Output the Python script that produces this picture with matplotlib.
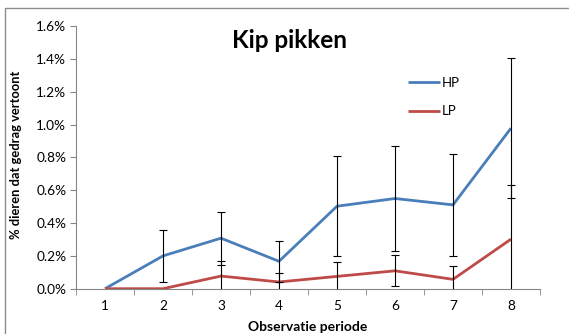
import numpy as np
import matplotlib
matplotlib.use("Agg")
import matplotlib.pyplot as plt
from matplotlib.patches import Rectangle

periods = [1, 2, 3, 4, 5, 6, 7, 8]
hp = [0.0, 0.20, 0.308, 0.167, 0.503, 0.55, 0.511, 0.979]
hp_err = [0.0, 0.157, 0.162, 0.125, 0.304, 0.318, 0.31, 0.426]
lp = [0.0, 0.0, 0.077, 0.041, 0.075, 0.109, 0.057, 0.302]
lp_err = [0.0, 0.0, 0.093, 0.053, 0.085, 0.094, 0.083, 0.329]
yticks = [0.0, 0.2, 0.4, 0.6, 0.8, 1.0, 1.2, 1.4, 1.6]

plt.rcParams['font.family'] = ['Lato', 'DejaVu Sans']

W, H = 569, 334
fig = plt.figure(figsize=(W / 100, H / 100), dpi=100)
fig.patches.append(Rectangle((5 / W, -0.1), 1.2, 1 - 8 / H + 0.1, transform=fig.transFigure,
                             fill=False, edgecolor='#8c8c8c', linewidth=1.0))

ax = fig.add_axes([76 / W, 1 - 288.7 / H, (540 - 76) / W, (288.7 - 26.3) / H])
x = np.array(periods)
ax.plot(x, hp, color='#4A7EBB', lw=2.0, label='HP', zorder=2, solid_capstyle='butt')
ax.plot(x, lp, color='#BE4B48', lw=2.0, label='LP', zorder=2, solid_capstyle='butt')

for vals, errs in ((hp, hp_err), (lp, lp_err)):
    v = np.array(vals); e = np.array(errs)
    m = e > 0
    ax.errorbar(x[m], v[m], yerr=e[m], fmt='none', ecolor='black', elinewidth=0.8,
                capsize=3, capthick=0.8, zorder=3)

ax.set_xlim(0.5, 8.5)
ax.set_ylim(0, 1.6)
ax.set_yticks(yticks)
ax.set_yticklabels([f"{t:.1f}%" for t in yticks])
ax.set_xticks(periods)
ax.set_xticks(np.arange(0.5, 9.0, 1.0), minor=True)
ax.tick_params(axis='x', which='major', length=0, pad=8, labelsize=9.8, colors='black')
ax.tick_params(axis='x', which='minor', length=4, color='#868686', direction='out')
ax.tick_params(axis='y', length=4, color='#868686', labelsize=9.8, pad=3)
for s in ('top', 'right'):
    ax.spines[s].set_visible(False)
for s in ('left', 'bottom'):
    ax.spines[s].set_color('#868686')
    ax.spines[s].set_linewidth(0.8)

fig.text(16 / W, 1 - 155 / H, '% dieren dat gedrag vertoont', ha='center', va='center',
         rotation=90, fontsize=9.3, fontweight='bold')
fig.text(308 / W, 1 - 327 / H, 'Observatie periode', ha='center', va='center',
         fontsize=10, fontweight='bold')
fig.text(289 / W, 1 - 40 / H, 'Kip pikken', ha='center', va='center',
         fontsize=17.5, fontweight='bold')

ax.legend(loc='upper left', bbox_to_anchor=((408 - 76) / (540 - 76), (288.7 - 77) / (288.7 - 26.3)),
          frameon=False, fontsize=9.5, handlelength=2.4, handletextpad=0.15, labelspacing=1.25,
          borderaxespad=0, borderpad=0)

fig.savefig('out.png', dpi=100)
